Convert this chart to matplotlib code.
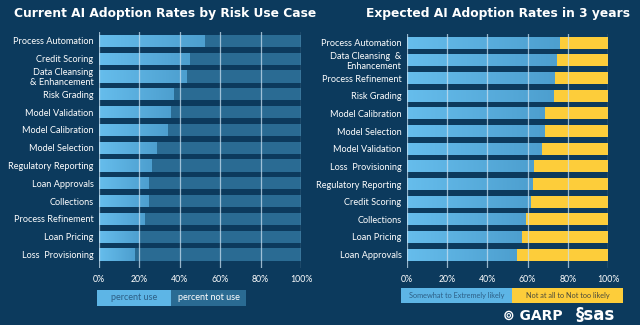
import numpy as np
import matplotlib
matplotlib.use("Agg")
import matplotlib.pyplot as plt
from matplotlib.patches import Rectangle
from matplotlib.colors import LinearSegmentedColormap

# данные: текущее использование
cur_labels = ["Process Automation", "Credit Scoring", "Data Cleansing\n& Enhancement",
              "Risk Grading", "Model Validation", "Model Calibration", "Model Selection",
              "Regulatory Reporting", "Loan Approvals", "Collections",
              "Process Refinement", "Loan Pricing", "Loss  Provisioning"]
cur_use = [52, 45, 43.5, 37, 35.5, 34, 28.5, 26, 24.7, 24.7, 22.5, 20, 17.7]

# данные: ожидания через 3 года
exp_labels = ["Process Automation", "Data Cleansing  &\nEnhancement", "Process Refinement",
              "Risk Grading", "Model Calibration", "Model Selection", "Model Validation",
              "Loss  Provisioning", "Regulatory Reporting", "Credit Scoring", "Collections",
              "Loan Pricing", "Loan Approvals"]
exp_likely = [76, 74.6, 73.6, 73, 68.5, 68.5, 67, 63, 62.4, 61.5, 59, 57.2, 54.6]

xticks = [0, 20, 40, 60, 80, 100]
xticklabels = ["0%", "20%", "40%", "60%", "80%", "100%"]

BG = "#0c3a5d"
LIGHT = "#5db5e6"
DARK = "#2a6b93"
YELLOW = "#fdcd3a"
FONT = "Lato"
grad = LinearSegmentedColormap.from_list("g", ["#66bdec", "#4d9fcf"])

W, H = 640, 325
fig = plt.figure(figsize=(6.4, 3.25), dpi=100, facecolor=BG)


def px_axes(x0, x1, y0, y1):
    return fig.add_axes([x0 / W, 1 - y1 / H, (x1 - x0) / W, (y1 - y0) / H])


def setup(ax, labels):
    ax.set_facecolor(BG)
    ax.set_yticks(np.arange(len(labels)))
    ax.set_yticklabels(labels, fontsize=6.6, color="white", family=FONT,
                       linespacing=1.05)
    ax.set_xticks(xticks)
    ax.set_xticklabels(xticklabels, fontsize=6.3, color="white", family=FONT)
    ax.tick_params(axis="y", length=0, pad=4)
    ax.tick_params(axis="x", length=0, pad=5)
    for s in ax.spines.values():
        s.set_visible(False)
    for xv in xticks:
        ax.axvline(xv, color="#c8dff0", lw=0.9, alpha=0.75, zorder=3)


def draw(ax, vals, rest_color):
    y = np.arange(len(vals))
    v = np.array(vals)
    bars = ax.barh(y, v, height=0.68, color=LIGHT, zorder=2)
    ax.barh(y, 100 - v, left=v, height=0.68, color=rest_color, zorder=2)
    # лёгкий градиент на светлой части
    g = np.linspace(0, 1, 100).reshape(1, -1)
    for b in bars:
        x0, y0 = b.get_x(), b.get_y()
        w, h = b.get_width(), b.get_height()
        im = ax.imshow(g, cmap=grad, aspect="auto", zorder=2.1,
                       extent=[x0, x0 + w, y0 + h, y0])
        im.set_clip_path(b)
    ax.set_xlim(0, 100)
    ax.set_ylim(12.76, -0.5)


# левый график
ax1 = px_axes(99, 301, 32, 268)
setup(ax1, cur_labels)
draw(ax1, cur_use, DARK)

# правый график
ax2 = px_axes(407, 608, 34, 268)
setup(ax2, exp_labels)
draw(ax2, exp_likely, YELLOW)

# заголовки
fig.text(165 / W, 1 - 14 / H, "Current AI Adoption Rates by Risk Use Case",
         ha="center", va="center", color="white", fontsize=8.8, weight="bold",
         family="DejaVu Sans")
fig.text(498 / W, 1 - 14 / H, "Expected AI Adoption Rates in 3 years",
         ha="center", va="center", color="white", fontsize=8.8, weight="bold",
         family="DejaVu Sans")


# легенды
def legend_box(x0, x1, y0, y1, color, text, tcolor, fs):
    fig.patches.append(Rectangle((x0 / W, 1 - y1 / H), (x1 - x0) / W, (y1 - y0) / H,
                                 transform=fig.transFigure, facecolor=color,
                                 edgecolor="none"))
    fig.text((x0 + x1) / 2 / W, 1 - (y0 + y1) / 2 / H, text, ha="center",
             va="center", color=tcolor, fontsize=fs, family=FONT)


legend_box(97, 171, 290, 306, LIGHT, "percent use", "#2d5f86", 6.5)
legend_box(171, 246, 290, 306, DARK, "percent not use", "white", 6.5)
legend_box(401, 512, 288, 303, LIGHT, "Somewhat to Extremely likely", "#2d5f86", 5.3)
legend_box(512, 623, 288, 303, YELLOW, "Not at all to Not too likely", "#4a4a3a", 5.3)

# логотипы
fig.text(533 / W, 1 - 316 / H, "\u229a GARP", ha="center", va="center",
         color="white", fontsize=10, weight="bold", family="DejaVu Sans")
fig.text(596 / W, 1 - 315 / H, "\u00a7sas", ha="center", va="center",
         color="white", fontsize=12, weight="bold", family="DejaVu Sans")

fig.savefig("out.png", dpi=100, facecolor=BG)
